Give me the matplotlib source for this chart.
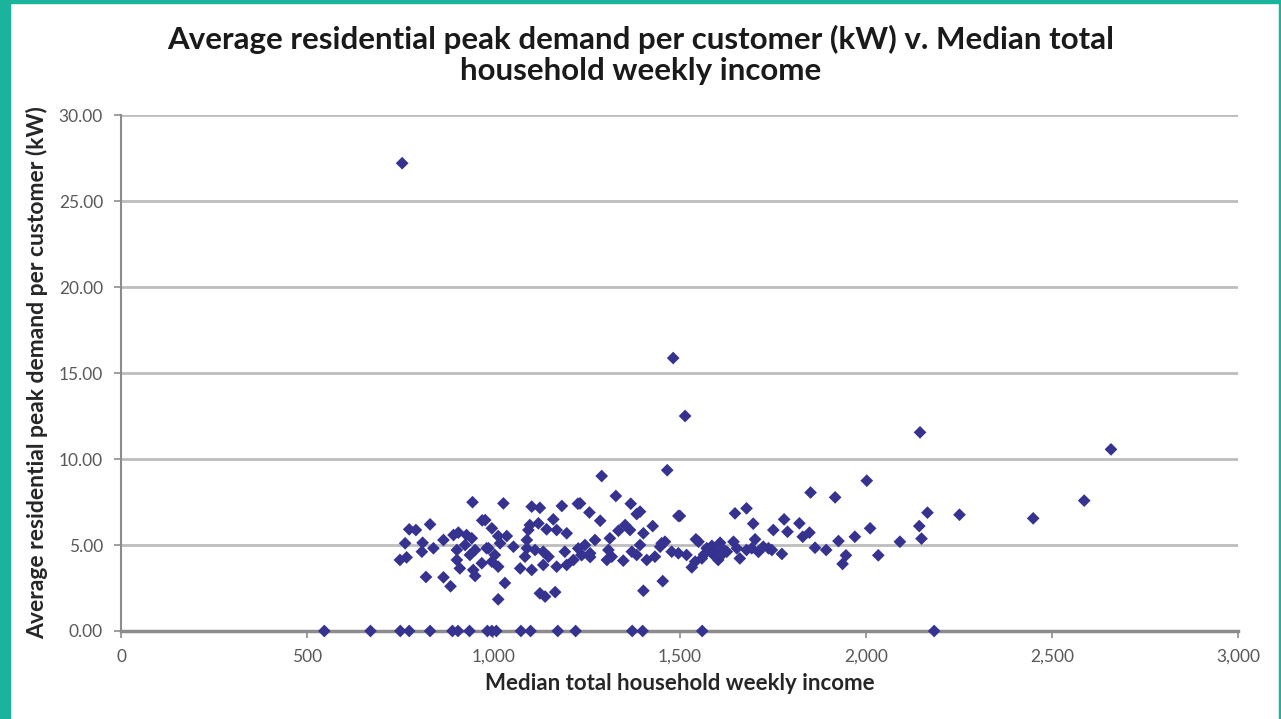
import matplotlib.pyplot as plt
from matplotlib.patches import Rectangle
from matplotlib.ticker import FuncFormatter, MultipleLocator

# median total household weekly income ($) and avg residential peak demand (kW)
income = [
    755, 1483, 1515, 1291, 1467, 2003, 2146, 2659, 2587, 2166, 2252, 2450,
    2144, 2150, 2092, 2034, 2012, 1971, 1927, 1947, 1938, 1894, 1864, 1918,
    1852, 1781, 1822, 1752, 1790, 1831, 1849, 1748, 1775,
    944, 830, 774, 792, 970, 763, 810, 808, 839, 866, 893, 906, 928, 942,
    749, 767, 902, 924, 951, 902, 910, 937, 969, 946, 951, 819, 866, 885, 982,
    1027, 1103, 1125, 1184, 1227, 1161, 978, 1098, 1121, 1094, 1143, 1170,
    1197, 996, 1013, 1036, 1018, 987, 1054, 1090, 1090, 1112, 1134, 1148,
    1085, 1004, 996, 1013, 1072, 1103, 1134, 1170, 1197, 1215, 1237, 1192,
    1031, 1013, 1125, 1139, 1166,
    1329, 1369, 1385, 1394, 1258, 1287, 1233, 1497, 1354, 1367, 1336, 1428,
    1403, 1273, 1313, 1246, 1237, 1260, 1309, 1305, 1318, 1349, 1372, 1394,
    1385, 1412, 1434, 1452, 1461, 1448, 1479, 1455, 1403,
    1501, 1649, 1680, 1698, 1544, 1551, 1609, 1645, 1703, 1497, 1519, 1573,
    1587, 1600, 1613, 1627, 1604, 1654, 1680, 1694, 1725, 1739, 1662, 1560,
    1542, 1533, 1228, 1260, 1587, 1620, 1596, 1566, 1712,
    546, 670, 750, 774, 830, 890, 905, 936, 984, 996, 1008, 1074, 1100, 1173,
    1221, 1373, 1401, 1561, 2184,
]
peak_kw = [
    27.2, 15.87, 12.5, 9.01, 9.35, 8.74, 11.55, 10.56, 7.58, 6.88, 6.76, 6.55,
    6.10, 5.37, 5.19, 4.40, 5.97, 5.48, 5.23, 4.40, 3.90, 4.71, 4.84, 7.77,
    8.05, 6.49, 6.26, 5.87, 5.77, 5.48, 5.72, 4.71, 4.48,
    7.49, 6.20, 5.91, 5.87, 6.43, 5.10, 5.13, 4.61, 4.81, 5.29, 5.58, 5.72,
    5.58, 5.39, 4.13, 4.28, 4.71, 5.00, 4.71, 4.13, 3.64, 4.42, 3.94, 3.55,
    3.20, 3.14, 3.12, 2.60, 4.81,
    7.42, 7.23, 7.16, 7.27, 7.40, 6.49, 6.45, 6.16, 6.26, 5.87, 5.91, 5.87,
    5.68, 5.97, 5.52, 5.52, 5.10, 4.81, 4.90, 5.29, 4.81, 4.71, 4.61, 4.32,
    4.32, 4.42, 4.03, 3.74, 3.64, 3.55, 3.84, 3.74, 3.84, 4.13, 4.42, 4.61,
    2.79, 1.84, 2.19, 2.00, 2.26,
    7.85, 7.40, 6.80, 6.94, 6.89, 6.41, 7.42, 6.69, 6.16, 5.87, 5.83, 6.10,
    5.68, 5.29, 5.39, 5.00, 4.42, 4.52, 4.71, 4.13, 4.32, 4.09, 4.61, 5.00,
    4.42, 4.13, 4.32, 5.10, 5.19, 4.90, 4.61, 2.90, 2.34,
    6.69, 6.84, 7.13, 6.24, 5.33, 5.19, 5.13, 5.19, 5.33, 4.52, 4.42, 4.81,
    4.52, 4.61, 4.42, 4.61, 4.13, 4.81, 4.71, 4.81, 4.90, 4.81, 4.22, 4.22,
    4.03, 3.70, 4.80, 4.30, 4.95, 4.70, 4.35, 4.45, 4.60,
    0, 0, 0, 0, 0, 0, 0, 0, 0, 0, 0, 0, 0, 0,
    0, 0, 0, 0, 0,
]

title = ("Average residential peak demand per customer (kW) v. Median total\n"
         "household weekly income")
x_label = "Median total household weekly income"
y_label = "Average residential peak demand per customer (kW)"

plt.rcParams['font.family'] = ['Lato', 'DejaVu Sans']

fig = plt.figure(figsize=(12.81, 7.19), dpi=100)
ax = fig.add_axes([0.0945, 0.1224, 0.8719, 0.7176])

ax.scatter(income, peak_kw, marker='D', s=42, color='#35338f',
           edgecolors='none', zorder=3, clip_on=False)

ax.set_xlim(0, 3000)
ax.set_ylim(0, 30)
ax.xaxis.set_major_locator(MultipleLocator(500))
ax.yaxis.set_major_locator(MultipleLocator(5))
ax.xaxis.set_major_formatter(FuncFormatter(lambda v, p: f"{int(v):,}"))
ax.yaxis.set_major_formatter(FuncFormatter(lambda v, p: f"{v:.2f}"))

ax.grid(axis='y', color='#bdbdbd', linewidth=2, zorder=0)
ax.set_axisbelow(True)
for side in ['top', 'right']:
    ax.spines[side].set_visible(False)
ax.spines['left'].set_color('#8c8c8c')
ax.spines['left'].set_linewidth(1.5)
ax.spines['bottom'].set_color('#8c8c8c')
ax.spines['bottom'].set_linewidth(2.5)
ax.tick_params(axis='both', colors='#8c8c8c', labelcolor='#595959',
               labelsize=12.5, length=5, width=1.2, direction='out')
ax.tick_params(axis='y', pad=8)
ax.tick_params(axis='x', pad=8)

ax.set_xlabel(x_label, fontsize=16, fontweight='bold', color='#262626',
              labelpad=6)
ax.set_ylabel(y_label, fontsize=16.5, fontweight='bold', color='#262626',
              labelpad=8)

fig.text(0.5, 0.965, title, ha='center', va='top', fontsize=22.5,
         fontweight='bold', color='#1a1a1a', linespacing=1.1)

# teal frame on the edges of the screenshot
teal = '#1ab39b'
fig.patches.append(Rectangle((0, 0), 10 / 1281, 1, transform=fig.transFigure,
                             color=teal, zorder=10))
fig.patches.append(Rectangle((0, 1 - 3 / 719), 1, 3 / 719,
                             transform=fig.transFigure, color=teal, zorder=10))
fig.patches.append(Rectangle((1 - 2 / 1281, 0), 2 / 1281, 1,
                             transform=fig.transFigure, color=teal, zorder=10))

fig.savefig('out.png', dpi=100)
